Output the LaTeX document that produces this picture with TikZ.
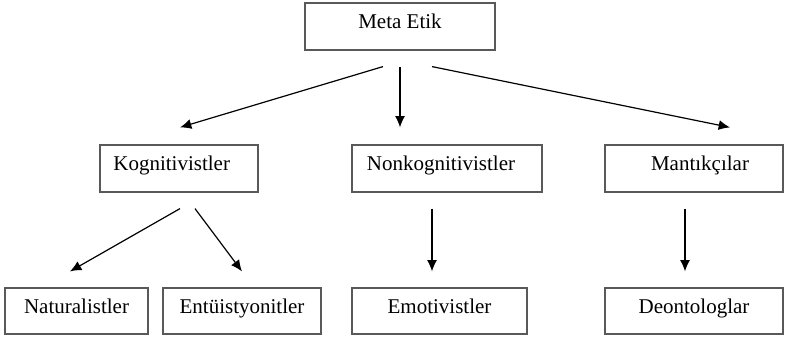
\documentclass[tikz,border=0pt]{standalone}
\usepackage{fontspec}
\setmainfont{Liberation Serif}
\usetikzlibrary{calc,arrows.meta}
\begin{document}
\begin{tikzpicture}[x=0.75pt,y=-0.75pt,
  box/.style={draw=black!65,line width=0.9pt,minimum height=47*0.75pt,inner sep=0pt,
    font=\fontsize{15.75pt}{18pt}\selectfont,text height=11pt,text depth=8pt},
  arr/.style={-{Latex[length=8.5pt,width=7.5pt]},line width=0.9pt,black}]
\useasboundingbox (0,0) rectangle (787,338);
\node[box,minimum width=190*0.75pt] (meta) at (400,26.5) {Meta Etik};
\node[box,minimum width=158*0.75pt] (kog) at (179,168.5) {\hspace*{-11pt}Kognitivistler};
\node[box,minimum width=190*0.75pt] (nonk) at (447,168.5) {\hspace*{-9pt}Nonkognitivistler};
\node[box,minimum width=178*0.75pt] (mant) at (694,168.5) {\hspace*{9pt}Mantıkçılar};
\node[box,minimum width=143*0.75pt,minimum height=46*0.75pt] (nat) at (76.5,311) {Naturalistler};
\node[box,minimum width=158*0.75pt,minimum height=46*0.75pt] (ent) at (242,311) {Entüistyonitler};
\node[box,minimum width=175*0.75pt,minimum height=46*0.75pt] (emo) at (439.5,311) {Emotivistler};
\node[box,minimum width=178*0.75pt,minimum height=46*0.75pt] (deo) at (694,311) {Deontologlar};
\draw[arr] ($(meta.south)+(-17,16)$) -- ($(kog.north)+(1,-17)$);
\draw[arr] ($(meta.south)+(0,16)$) -- ($(nonk.north)+(-47,-17)$);
\draw[arr] ($(meta.south)+(32,16)$) -- ($(mant.north)+(36,-17)$);
\draw[arr] ($(kog.south)+(1,16)$) -- ($(nat.north)+(-6.5,-16)$);
\draw[arr] ($(kog.south)+(16,16)$) -- ($(ent.north)+(0,-16)$);
\draw[arr] ($(nonk.south)+(-15,16)$) -- ($(emo.north)+(-7.5,-16)$);
\draw[arr] ($(mant.south)+(-9,16)$) -- ($(deo.north)+(-9,-16)$);
\end{tikzpicture}
\end{document}
